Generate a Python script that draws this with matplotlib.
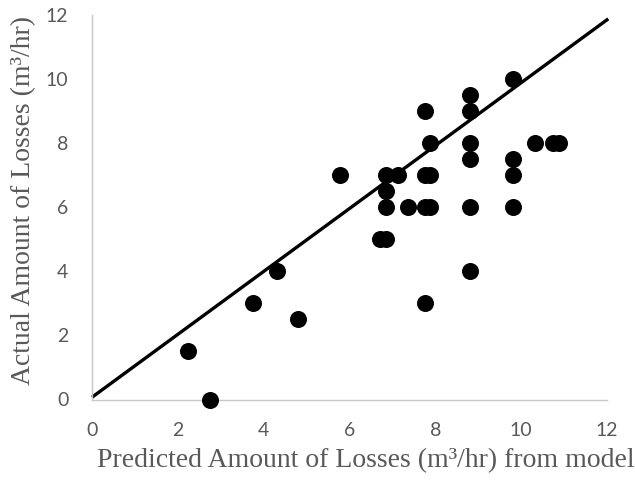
import matplotlib
matplotlib.use("Agg")
import matplotlib.pyplot as plt

# Predicted vs actual losses (m3/hr)
predicted = [9.8, 8.8, 8.8, 7.75, 7.87, 8.8, 10.33, 10.75, 10.87, 8.8, 9.8,
             5.77, 6.85, 7.13, 7.75, 7.87, 9.8, 6.85, 6.85, 7.36, 7.75, 7.87,
             8.8, 9.8, 6.7, 6.85, 7.75, 8.8, 4.3, 3.76, 4.8, 2.24, 2.75]
actual = [10, 9.5, 9, 9, 8, 8, 8, 8, 8, 7.5, 7.5,
          7, 7, 7, 7, 7, 7, 6.5, 6, 6, 6, 6,
          6, 6, 5, 5, 3, 4, 4, 3, 2.5, 1.5, 0]

# Reference line endpoints
line_x = [0, 12.03]
line_y = [0.07, 11.88]

x_ticks = [0, 2, 4, 6, 8, 10, 12]
y_ticks = [0, 2, 4, 6, 8, 10, 12]

fig = plt.figure(figsize=(6.35, 4.82), dpi=100)
ax = fig.add_axes([92 / 635, 1 - 399.5 / 482, 515 / 635, 384.5 / 482])

ax.scatter(predicted, actual, s=150, color="black", linewidths=0, zorder=3,
           clip_on=False)
ax.plot(line_x, line_y, color="black", linewidth=2.4, zorder=2,
        solid_capstyle="butt", clip_on=False)

ax.set_xlim(0, 12)
ax.set_ylim(0, 12)
ax.set_xticks(x_ticks)
ax.set_yticks(y_ticks)
ax.set_xticklabels([str(t) for t in x_ticks])
ax.set_yticklabels([str(t) for t in y_ticks])

for side in ("top", "right"):
    ax.spines[side].set_visible(False)
for side in ("left", "bottom"):
    ax.spines[side].set_color("#c8c8c8")
    ax.spines[side].set_linewidth(1.0)

ax.tick_params(axis="both", length=0, colors="#595959", labelsize=14)
ax.tick_params(axis="x", pad=16)
ax.tick_params(axis="y", pad=17)
for lab in ax.get_xticklabels() + ax.get_yticklabels():
    lab.set_fontfamily("Lato")

label_font = dict(family="Liberation Serif", size=20, color="#595959")
fig.text(366 / 635, 1 - 461 / 482,
         "Predicted Amount of Losses (m\u00b3/hr) from model",
         ha="center", va="center", **label_font)
fig.text(24 / 635, 1 - 200 / 482,
         "Actual Amount of Losses (m\u00b3/hr)",
         ha="center", va="center", rotation=90, **label_font)

fig.savefig("out.png", dpi=100, facecolor="white")
